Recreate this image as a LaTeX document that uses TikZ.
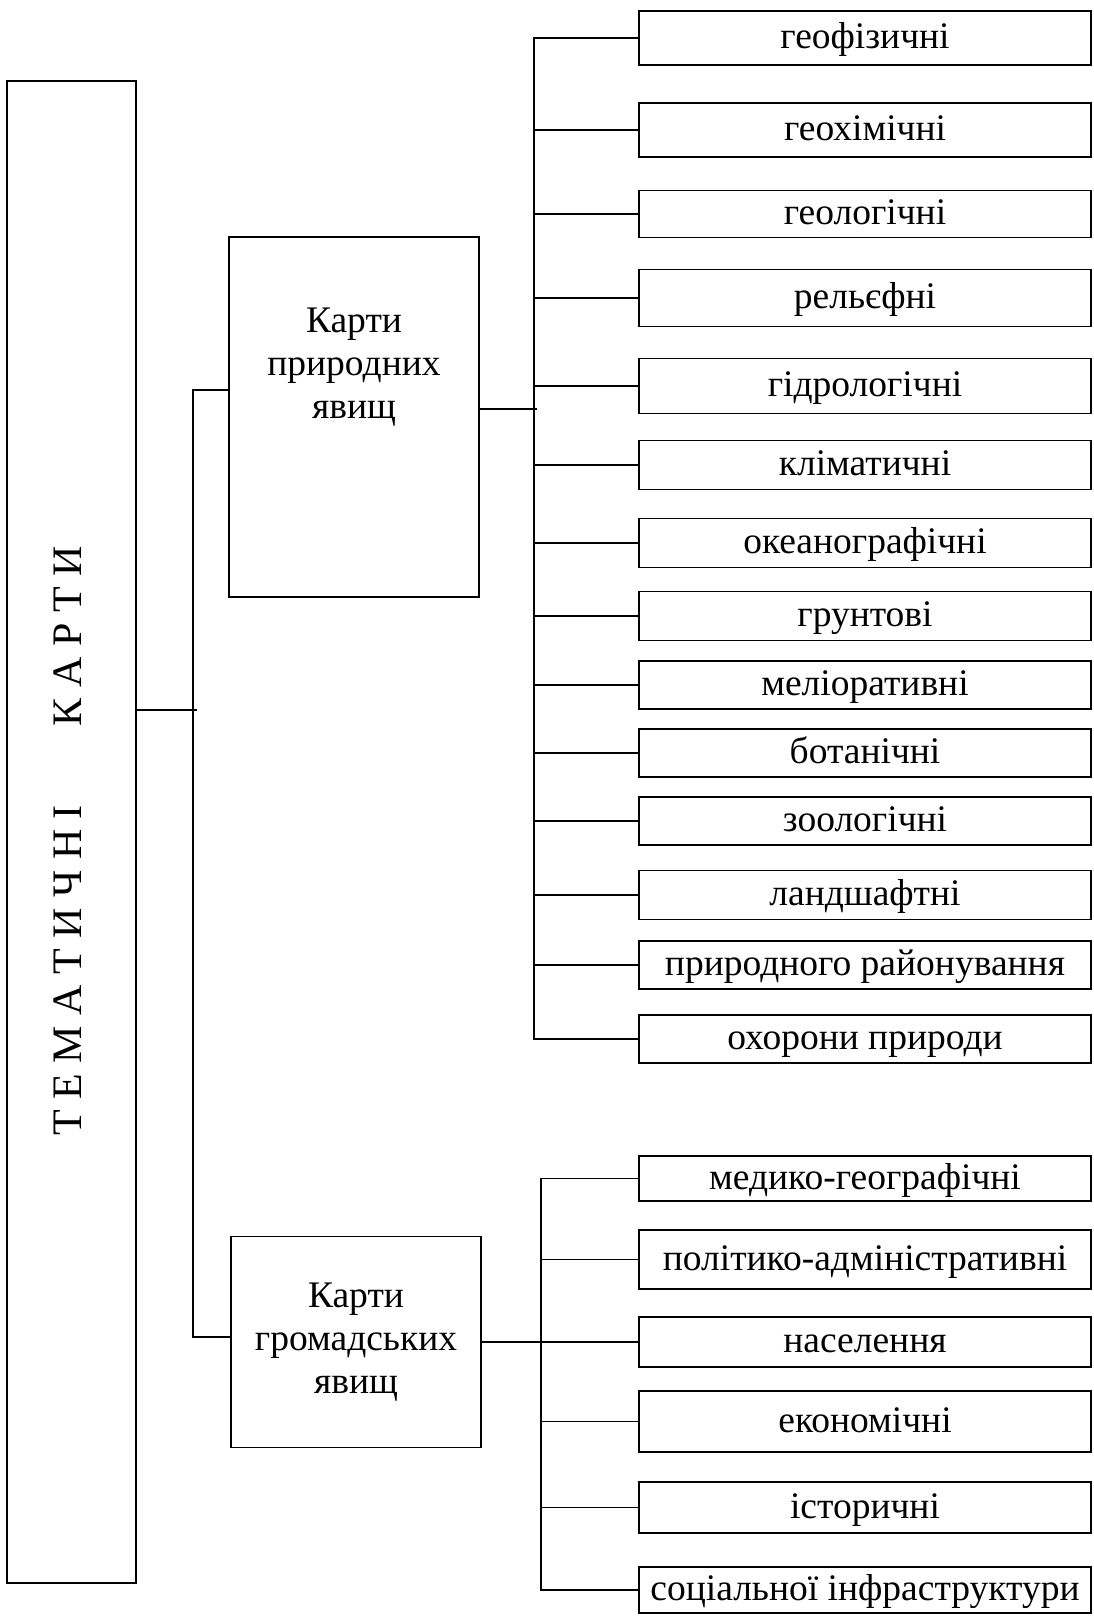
\documentclass[tikz,border=0pt]{standalone}
\usepackage{fontspec}
\setmainfont{Liberation Serif}

\begin{document}
\begin{tikzpicture}[x=1pt,y=-1pt,line width=1.8pt,font=\fontsize{37.5}{43}\selectfont,
  leaf/.style={draw,minimum width=452pt,inner sep=0pt,text height=28pt,text depth=7pt},
  group/.style={draw,minimum width=250pt,inner sep=0pt,align=center}]
\useasboundingbox (0,0) rectangle (1093,1618);
% root box with the vertical title
\node[draw,minimum width=129pt,minimum height=1502pt,inner sep=0pt] (root) at (71.5,832) {};
\node[rotate=90,font=\fontsize{42}{50}\selectfont] (title) at (68,841) {Т Е М А Т И Ч Н І\hspace{79pt}К А Р Т И};
% two groups
\node[group,minimum height=360pt] (nat) at (354,417) {};
\node[align=center] (natlab) at (354,367) {Карти\\природних\\явищ};
\node[group,minimum height=211pt] (soc) at (356,1342) {Карти\\громадських\\явищ};
\coordinate (lt) at (193,390); \coordinate (lb) at (193,1337); \coordinate (lm) at (197,710);
\draw (nat.west |- lt) -- (lt) -- (lb) -- (soc.west |- lb);
\draw (root.east |- lm) -- (lm);
% natural phenomena
\foreach \i/\y/\h/\txt in {1/38/54/геофізичні,2/130/54/геохімічні,3/214/47/геологічні,4/298/57/рельєфні,5/386/55/гідрологічні,6/465/49/кліматичні,7/543/49/океанографічні,8/616/49/грунтові,9/685/48/меліоративні,10/753/48/ботанічні,11/821/48/зоологічні,12/895/49/ландшафтні,13/965/48/природного районування,14/1039/48/охорони природи}
  \node[leaf,minimum height=\h pt] (n\i) at (865,\y) {\txt};
\coordinate (nbus) at (534,0); \coordinate (rj) at (537,409);
\draw (nat.east |- rj) -- (rj);
\draw (n1.west) -| (n14.west -| nbus) -- (n14.west);
\foreach \i in {2,...,13} \draw (n\i.west) -- (n\i.west -| nbus);
% social phenomena
\foreach \i/\y/\h/\txt in {1/1178.5/45/медико-географічні,2/1259.5/59/політико-адміністративні,3/1342/50/населення,4/1421.5/61/економічні,5/1507.5/51/історичні,6/1590/46/соціальної інфраструктури}
  \node[leaf,minimum height=\h pt] (s\i) at (865,\y) {\txt};
\coordinate (sbus) at (541,0);
\draw (s1.west) -| (s6.west -| sbus) -- (s6.west);
\foreach \i in {2,4,5} \draw (s\i.west) -- (s\i.west -| sbus);
\draw (soc.east) -- (s3.west);
\end{tikzpicture}
\end{document}
